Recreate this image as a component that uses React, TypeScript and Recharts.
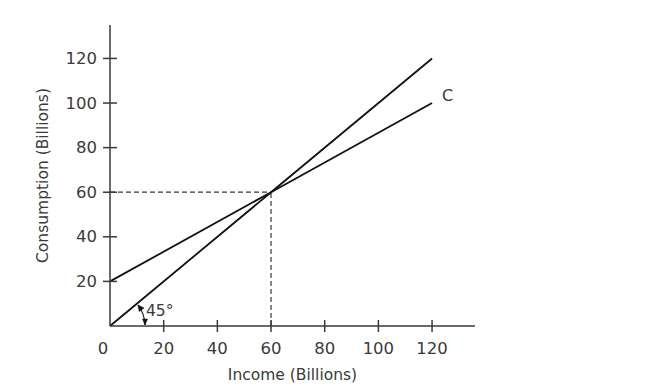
import { LineChart, Line, XAxis, YAxis, ReferenceLine, ReferenceDot, LabelList } from "recharts"

const income = [0, 60, 120]
const fortyFive = [0, 60, 120]
const consumption = [20, 60, 100]
const xTicks = [0, 20, 40, 60, 80, 100, 120]
const yTicks = [20, 40, 60, 80, 100, 120]
const equilibrium = { income: 60, consumption: 60 }

const data = income.map((inc, i) => ({
  income: inc,
  fortyFive: fortyFive[i],
  consumption: consumption[i],
}))

const FONT = "'DejaVu Sans', sans-serif"
const INK = "#3a3a3a"

const XTick = (props: any) => {
  const { x, y, payload } = props
  const isZero = payload.value === 0
  return (
    <g>
      {!isZero && <line x1={x} x2={x} y1={y - 6} y2={y + 6} stroke={INK} strokeWidth={1.5} />}
      <text x={isZero ? x - 7 : x} y={y + 22} textAnchor="middle" dominantBaseline="central" fontSize={16.5} fill={INK} fontFamily={FONT}>
        {payload.value}
      </text>
    </g>
  )
}

const YTick = (props: any) => {
  const { x, y, payload } = props
  return (
    <g>
      <line x1={x - 7} x2={x + 7} y1={y} y2={y} stroke={INK} strokeWidth={1.5} />
      <text x={x - 13} y={y} textAnchor="end" dominantBaseline="central" fontSize={16.5} fill={INK} fontFamily={FONT}>
        {payload.value}
      </text>
    </g>
  )
}

const AngleMark = (props: any) => {
  const { cx, cy } = props
  return (
    <g stroke="#111" fill="#111">
      <path d={`M ${cx + 28} ${cy - 21} A 35 35 0 0 1 ${cx + 35} ${cy - 1}`} fill="none" strokeWidth={1.2} />
      <path d={`M ${cx + 35} ${cy - 1} L ${cx + 32.5} ${cy - 7} L ${cx + 37.5} ${cy - 7} Z`} strokeWidth={0.5} />
      <path d={`M ${cx + 28} ${cy - 21} L ${cx + 34} ${cy - 18} L ${cx + 29.2} ${cy - 14.4} Z`} strokeWidth={0.5} />
      <text x={cx + 36} y={cy - 15} stroke="none" fill={INK} fontSize={15.5} fontFamily={FONT} dominantBaseline="central">
        45°
      </text>
    </g>
  )
}

const CLabel = (props: any) => {
  const { x, y, index } = props
  if (index !== data.length - 1) return null
  return (
    <text x={x + 10} y={y - 8} fontSize={16} fill={INK} fontFamily={FONT} dominantBaseline="central">
      C
    </text>
  )
}

export default function App() {
  return (
    <div style={{ position: "absolute", left: 0, top: 0, background: "#fff" }}>
      <LineChart width={653} height={386} data={data} margin={{ top: 25, right: 178, bottom: 10, left: 10 }}>
        <XAxis
          dataKey="income"
          type="number"
          domain={[0, 136]}
          ticks={xTicks}
          interval={0}
          height={50}
          stroke={INK}
          strokeWidth={1.5}
          tickLine={false}
          tickSize={0}
          tickMargin={0}
          tick={<XTick />}
          label={(p: any) => {
            const vb = p.viewBox
            return (
              <text x={vb.x + vb.width / 2} y={vb.y + 49} textAnchor="middle" dominantBaseline="central" fontSize={15.5} fill={INK} fontFamily={FONT}>
                Income (Billions)
              </text>
            )
          }}
        />
        <YAxis
          type="number"
          domain={[0, 135]}
          ticks={yTicks}
          interval={0}
          width={100}
          stroke={INK}
          strokeWidth={1.5}
          tickLine={false}
          tickSize={0}
          tickMargin={0}
          tick={<YTick />}
          label={(p: any) => {
            const vb = p.viewBox
            const cx = vb.x + 33
            const cy = vb.y + vb.height / 2
            return (
              <text x={cx} y={cy} transform={`rotate(-90 ${cx} ${cy})`} textAnchor="middle" dominantBaseline="central" fontSize={15.5} fill={INK} fontFamily={FONT}>
                Consumption (Billions)
              </text>
            )
          }}
        />
        <ReferenceLine
          segment={[{ x: 0, y: equilibrium.consumption }, { x: equilibrium.income, y: equilibrium.consumption }]}
          stroke={INK}
          strokeWidth={1.2}
          strokeDasharray="5 3"
        />
        <ReferenceLine
          segment={[{ x: equilibrium.income, y: 0 }, { x: equilibrium.income, y: equilibrium.consumption }]}
          stroke={INK}
          strokeWidth={1.2}
          strokeDasharray="5 3"
        />
        <Line dataKey="fortyFive" stroke="#111" strokeWidth={1.8} dot={false} isAnimationActive={false} />
        <Line dataKey="consumption" stroke="#111" strokeWidth={1.8} dot={false} isAnimationActive={false}>
          <LabelList dataKey="consumption" content={<CLabel />} />
        </Line>
        <ReferenceDot x={0} y={0} shape={<AngleMark />} ifOverflow="visible" />
      </LineChart>
    </div>
  )
}
